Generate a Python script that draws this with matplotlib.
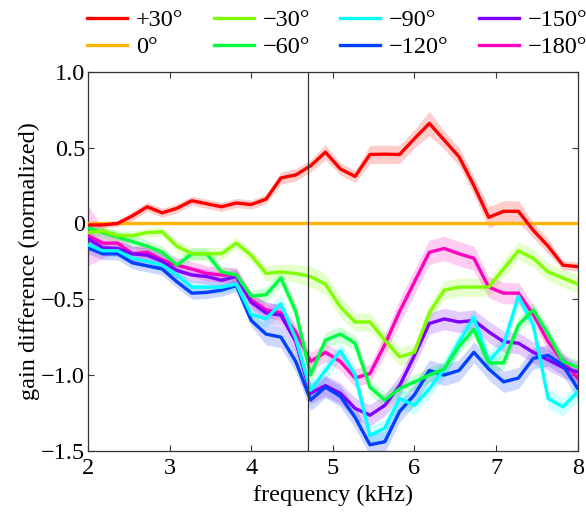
import numpy as np
import matplotlib
matplotlib.use("Agg")
from matplotlib import pyplot as plt
from matplotlib.ticker import FixedLocator, FuncFormatter

plt.rcParams['font.family'] = ['Liberation Serif', 'DejaVu Serif']
plt.rcParams['mathtext.fontset'] = 'stix'

# frequency grid (kHz), 34 points from 2 to 8
freqs = np.linspace(2, 8, 34)

labels = ['+30°', '0°', '−30°', '−60°', '−90°', '−120°', '−150°', '−180°']
colors = ['#ff0000', '#ffb400', '#80ff00', '#00ff40',
          '#00ffff', '#0040ff', '#8000ff', '#ff00c0']

p30 = [-0.01, -0.01, 0.0, 0.05, 0.11, 0.07, 0.10, 0.15, 0.13, 0.11, 0.135, 0.125,
       0.16, 0.30, 0.32, 0.38, 0.47, 0.36, 0.31, 0.455, 0.457, 0.455, 0.56, 0.66,
       0.55, 0.44, 0.25, 0.04, 0.08, 0.08, -0.045, -0.15, -0.275, -0.285]
p0 = [0.0] * 34
m30 = [-0.06, -0.05, -0.08, -0.08, -0.06, -0.055, -0.15, -0.20, -0.20, -0.20, -0.13, -0.21,
       -0.33, -0.32, -0.33, -0.35, -0.40, -0.55, -0.65, -0.65, -0.77, -0.88, -0.85, -0.59,
       -0.44, -0.42, -0.42, -0.42, -0.30, -0.18, -0.23, -0.32, -0.36, -0.40]
m60 = [-0.03, -0.06, -0.09, -0.12, -0.15, -0.19, -0.275, -0.20, -0.20, -0.32, -0.34, -0.48,
       -0.47, -0.36, -0.58, -1.00, -0.77, -0.73, -0.79, -1.08, -1.165, -1.09, -1.045, -1.0,
       -0.96, -0.81, -0.70, -0.92, -0.92, -0.67, -0.57, -0.73, -0.91, -0.95]
m90 = [-0.14, -0.18, -0.18, -0.23, -0.25, -0.275, -0.34, -0.42, -0.42, -0.42, -0.40, -0.60,
       -0.63, -0.53, -0.76, -1.10, -0.97, -0.84, -1.0, -1.40, -1.35, -1.155, -1.2, -1.09,
       -0.96, -0.78, -0.62, -0.91, -0.80, -0.48, -0.67, -1.155, -1.21, -1.11]
m120 = [-0.16, -0.20, -0.20, -0.26, -0.28, -0.30, -0.385, -0.46, -0.455, -0.44, -0.41, -0.64,
        -0.73, -0.75, -0.91, -1.165, -1.08, -1.14, -1.28, -1.46, -1.44, -1.24, -1.13, -0.97,
        -1.0, -0.97, -0.85, -0.96, -1.045, -1.02, -0.89, -0.87, -0.935, -1.09]
m150 = [-0.10, -0.16, -0.165, -0.20, -0.21, -0.25, -0.31, -0.34, -0.35, -0.375, -0.35, -0.52,
        -0.59, -0.605, -0.78, -1.12, -1.07, -1.12, -1.22, -1.265, -1.2, -1.07, -0.87, -0.66,
        -0.63, -0.65, -0.64, -0.715, -0.78, -0.79, -0.85, -0.90, -0.95, -0.98]
m180 = [-0.08, -0.13, -0.13, -0.20, -0.19, -0.24, -0.275, -0.30, -0.33, -0.34, -0.34, -0.505,
        -0.57, -0.59, -0.715, -0.91, -0.85, -0.91, -1.02, -0.99, -0.80, -0.58, -0.385, -0.19,
        -0.165, -0.20, -0.23, -0.42, -0.46, -0.46, -0.60, -0.78, -0.91, -1.02]

# half-width of the shaded bands
e_p30 = [0.02, 0.02, 0.02, 0.03, 0.03, 0.03, 0.03, 0.03, 0.03, 0.03, 0.03, 0.03,
         0.03, 0.04, 0.04, 0.04, 0.05, 0.04, 0.04, 0.06, 0.06, 0.06, 0.06, 0.08,
         0.06, 0.06, 0.06, 0.07, 0.07, 0.07, 0.05, 0.05, 0.03, 0.03]
e_p0 = [0.0] * 34
e_m30 = [0.03, 0.03, 0.03, 0.03, 0.03, 0.03, 0.04, 0.04, 0.04, 0.04, 0.04, 0.04,
         0.05, 0.05, 0.06, 0.07, 0.07, 0.07, 0.06, 0.06, 0.06, 0.06, 0.06, 0.06,
         0.06, 0.06, 0.06, 0.06, 0.06, 0.06, 0.06, 0.06, 0.06, 0.06]
e_m60 = [0.04] * 12 + [0.05] * 22
e_m90 = [0.04] * 12 + [0.06] * 22
e_m120 = [0.04] * 12 + [0.07] * 22
e_m150 = [0.05] * 12 + [0.07] * 22
e_m180 = [0.20, 0.10, 0.06, 0.05, 0.05, 0.05, 0.05, 0.05, 0.05, 0.05, 0.05, 0.05,
          0.05, 0.05, 0.05, 0.06, 0.06, 0.06, 0.06, 0.06, 0.07, 0.08, 0.08, 0.08,
          0.08, 0.08, 0.08, 0.07, 0.07, 0.07, 0.06, 0.06, 0.06, 0.06]

series = [p30, p0, m30, m60, m90, m120, m150, m180]
errors = [e_p30, e_p0, e_m30, e_m60, e_m90, e_m120, e_m150, e_m180]

fig = plt.figure(figsize=(5.86, 5.17), dpi=100)
ax = fig.add_axes([0.150, 0.128, 0.836, 0.733])

for i, (y, e) in enumerate(zip(series, errors)):
    y = np.array(y)
    e = np.array(e)
    if e.max() > 0:
        ax.fill_between(freqs, y - e, y + e, color=colors[i], alpha=0.2,
                        linewidth=0, zorder=1)
    ax.plot(freqs, y, color=colors[i], lw=2.4, label=labels[i], zorder=3 + (8 - i) * 0.01)

ax.axvline(4.7, color='#333333', lw=0.9, zorder=4)

ax.set_xlim(2, 8)
ax.set_ylim(-1.5, 1.0)
ax.xaxis.set_major_locator(FixedLocator([2, 3, 4, 5, 6, 7, 8]))
ax.yaxis.set_major_locator(FixedLocator([-1.5, -1.0, -0.5, 0, 0.5, 1.0]))


def yfmt(v, pos):
    if abs(v) < 1e-9:
        return '0'
    return ('%.1f' % v).replace('-', '−')


ax.yaxis.set_major_formatter(FuncFormatter(yfmt))
ax.tick_params(direction='in', top=True, right=True, labelsize=17.5, length=4,
               width=0.8, color='#333333', pad=2)
ax.tick_params(axis='x', pad=5)
for s in ax.spines.values():
    s.set_linewidth(0.9)
    s.set_color('#333333')

ax.set_xlabel('frequency (kHz)', fontsize=17.5, labelpad=4)
ax.set_ylabel('gain difference (normalized)', fontsize=17.5, labelpad=1)

fig.legend(loc='upper left', bbox_to_anchor=(0.12, 1.015), ncol=4, frameon=False,
           fontsize=17.5, handlelength=1.65, columnspacing=1.25, handletextpad=0.35,
           labelspacing=0.2, borderpad=0.2)

fig.savefig('out.png', dpi=100)
